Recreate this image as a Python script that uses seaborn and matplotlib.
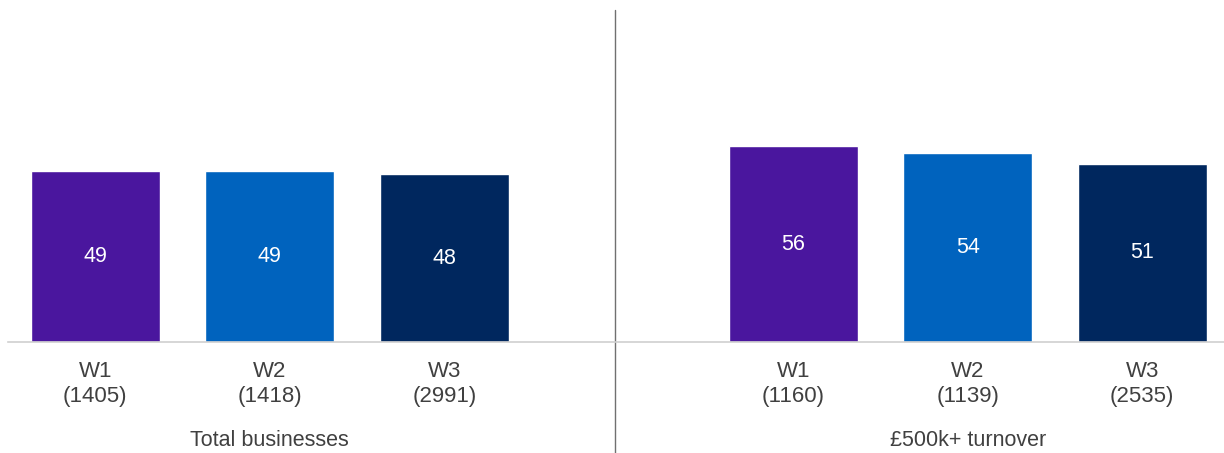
import pandas as pd
import matplotlib
matplotlib.use("Agg")
import matplotlib.pyplot as plt
import seaborn as sns

# data
waves = ["W1", "W2", "W3"]
total_values = [49, 49, 48]
total_bases = [1405, 1418, 2991]
turnover_values = [56, 54, 51]
turnover_bases = [1160, 1139, 2535]
groups = ["Total businesses", "£500k+ turnover"]
colors = {"W1": "#4A169E", "W2": "#0063BE", "W3": "#00275E"}

rows = []
for w, v, b in zip(waves, total_values, total_bases):
    rows.append({"slot": "t_" + w, "wave": w, "value": v, "label": f"{w}\n({b})"})
for w, v, b in zip(waves, turnover_values, turnover_bases):
    rows.append({"slot": "o_" + w, "wave": w, "value": v, "label": f"{w}\n({b})"})
df = pd.DataFrame(rows)

# empty slot in the middle separates the two groups
order = ["t_W1", "t_W2", "t_W3", "gap", "o_W1", "o_W2", "o_W3"]

sns.set_style("white")
plt.rcParams["font.family"] = ["Liberation Sans", "DejaVu Sans"]

fig = plt.figure(figsize=(12.24, 4.53), dpi=100)
ax = fig.add_axes([8 / 1224, 111 / 453, 1221.5 / 1224, 336 / 453])

sns.barplot(data=df, x="slot", y="value", hue="wave", order=order,
            palette=colors, dodge=False, width=0.74, legend=False,
            saturation=1, ax=ax)

for c in ax.containers:
    ax.bar_label(c, label_type="center", color="white", fontsize=15.5)

ax.set_xlim(-0.5, 6.5)
ax.set_ylim(0, 96)
ax.set_yticks([])
ax.set_xlabel("")
ax.set_ylabel("")
ticklabels = [df.set_index("slot").loc[s, "label"] if s != "gap" else "" for s in order]
ax.set_xticks(range(len(order)))
ax.set_xticklabels(ticklabels, fontsize=16, color="#404040")
ax.tick_params(axis="x", length=0, pad=14)

for side in ["top", "right", "left"]:
    ax.spines[side].set_visible(False)
ax.spines["bottom"].set_color("#D0D0D0")
ax.spines["bottom"].set_linewidth(1.2)

# group divider and group names
ax.plot([2.98, 2.98], [-32, 95], color="#707070", lw=1, clip_on=False)
ax.text(1, -28, groups[0], ha="center", va="center", fontsize=15.5, color="#404040")
ax.text(5, -28, groups[1], ha="center", va="center", fontsize=15.5, color="#404040")

fig.savefig("out.png", dpi=100)
